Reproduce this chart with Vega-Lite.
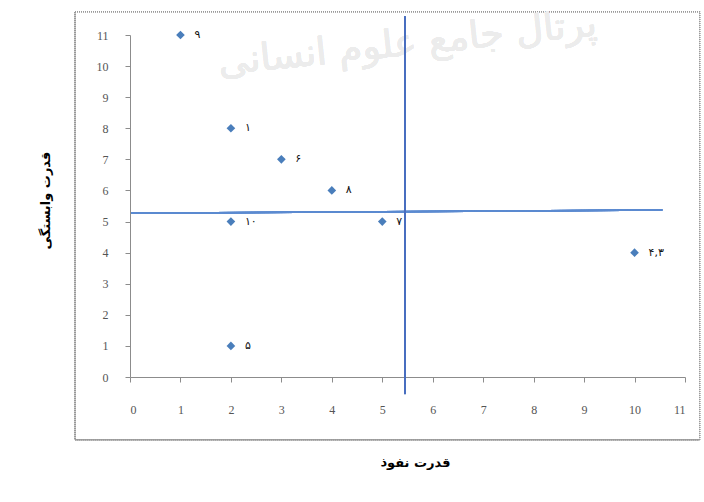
{
  "$schema": "https://vega.github.io/schema/vega-lite/v6.json",
  "width": 555,
  "height": 342,
  "autosize": {"type": "none"},
  "padding": {"left": 130, "top": 35, "right": 19, "bottom": 125},
  "background": "white",
  "config": {
    "view": {"stroke": null},
    "axis": {"grid": false, "domainColor": "#8c8c8c", "tickColor": "#8c8c8c", "tickSize": 5, "labelFont": "Liberation Serif", "labelFontSize": 12, "labelColor": "#555555", "titleFont": "DejaVu Sans", "titleFontSize": 13, "titleFontWeight": "bold", "titleColor": "#000000"}
  },
  "data": {"values": [
    {"x": 1, "y": 11, "label": "۹"},
    {"x": 2, "y": 8, "label": "۱"},
    {"x": 3, "y": 7, "label": "۶"},
    {"x": 4, "y": 6, "label": "۸"},
    {"x": 2, "y": 5, "label": "۱۰"},
    {"x": 5, "y": 5, "label": "۷"},
    {"x": 2, "y": 1, "label": "۵"},
    {"x": 10, "y": 4, "label": "۴,۳"}
  ]},
  "encoding": {
    "x": {
      "field": "x", "type": "quantitative",
      "scale": {"domain": [0, 11], "nice": false, "zero": false},
      "axis": {
        "values": [0, 1, 2, 3, 4, 5, 6, 7, 8, 9, 10, 11],
        "labelPadding": 22,
        "title": "قدرت نفوذ",
        "titleX": 285,
        "titleY": 85,
        "titleAnchor": "middle",
        "titleBaseline": "middle"
      }
    },
    "y": {
      "field": "y", "type": "quantitative",
      "scale": {"domain": [0, 11], "nice": false, "zero": false},
      "axis": {
        "values": [0, 1, 2, 3, 4, 5, 6, 7, 8, 9, 10, 11],
        "labelOverlap": false,
        "labelPadding": 17,
        "zindex": 1,
        "title": "قدرت وابستگی",
        "titleX": -85,
        "titleY": 165,
        "titleAngle": -90,
        "titleAnchor": "middle",
        "titleBaseline": "middle"
      }
    }
  },
  "layer": [
    {
      "mark": {"type": "rect", "fill": null, "stroke": "#9a9a9a", "strokeWidth": 1, "strokeDash": [1, 1], "clip": false},
      "encoding": {
        "x": {"datum": -1.09, "type": "quantitative"},
        "x2": {"datum": 11.29},
        "y": {"datum": 11.75, "type": "quantitative"},
        "y2": {"datum": -2.02}
      }
    },
    {
      "mark": {"type": "text", "text": "پرتال جامع علوم انسانی", "font": "DejaVu Sans", "fontSize": 38, "fill": "#ececec", "angle": -6, "baseline": "middle", "clip": false},
      "encoding": {
        "x": {"datum": 5.5, "type": "quantitative"},
        "y": {"datum": 10.7, "type": "quantitative"}
      }
    },
    {
      "mark": {"type": "point", "shape": "diamond", "filled": true, "size": 75, "color": "#4a7ebb", "opacity": 1}
    },
    {
      "mark": {"type": "text", "align": "left", "baseline": "middle", "dx": 14, "font": "DejaVu Sans", "fontSize": 11, "color": "#111111"},
      "encoding": {
        "text": {"field": "label"}
      }
    },
    {
      "mark": {"type": "rule", "color": "#5b8ad0", "strokeWidth": 1.5, "clip": false},
      "encoding": {
        "x": {"datum": 0, "type": "quantitative"},
        "x2": {"datum": 10.55},
        "y": {"datum": 5.27, "type": "quantitative"},
        "y2": {"datum": 5.37}
      }
    },
    {
      "mark": {"type": "rule", "color": "#4a6fbf", "strokeWidth": 1, "clip": false},
      "encoding": {
        "x": {"datum": 5.45, "type": "quantitative"},
        "x2": {"datum": 5.45},
        "y": {"datum": 11.6, "type": "quantitative"},
        "y2": {"datum": -0.55}
      }
    }
  ]
}
